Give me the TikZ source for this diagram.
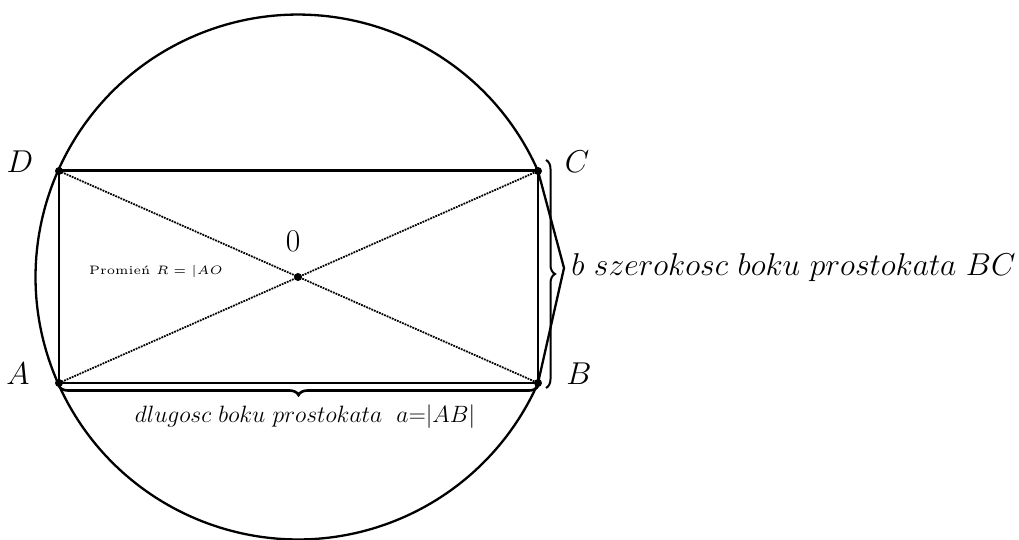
\documentclass[tikz,border=0pt]{standalone}
\usetikzlibrary{decorations.pathreplacing}
\begin{document}
\begin{tikzpicture}[x=1pt,y=1pt,
  lbl/.style={font=\fontsize{24.88}{30}\selectfont,scale=1.27,transform shape},
  dot/.style={circle,fill=black,inner sep=0pt,minimum size=8pt},
  diag/.style={densely dotted,line width=1.8pt},
  side/.style={line width=2pt},
  brc/.style={decorate,decoration={brace,amplitude=9pt},line width=2.6pt}]
\useasboundingbox (0,0) rectangle (1019,-540);
\coordinate (O) at (298,-277);
\coordinate (A) at (59,-383);
\coordinate (B) at (538,-383);
\coordinate (C) at (538,-171);
\coordinate (D) at (59,-171);
\coordinate (V) at (564,-268);
\coordinate (a1) at (59,-386);
\coordinate (b1) at (538,-386);
\coordinate (c1) at (546,-160);
\coordinate (b2) at (546,-388);
% circle (with its right side drawn as two straight strokes)
\draw[line width=2.3pt] (C) arc[start angle=23.83,end angle=336.17,radius=262.4] -- (V) -- (C);
% rectangle
\draw[line width=3pt] (D) -- (C);
\draw[side] (A) -- (D);
\draw[side] (B) -- (C);
\draw[side] (A) -- (B);
\draw[diag] (A) -- (C);
\draw[diag] (D) -- (B);
% braces
\draw[brc] (b1) -- (a1);
\draw[brc,line width=2pt] (c1) -- (b2);
% points
\node[dot] (pA) at (A) {};
\node[dot] (pB) at (B) {};
\node[dot] (pC) at (C) {};
\node[dot] (pD) at (D) {};
\node[dot] (pO) at (O) {};
% labels
\node[lbl] (lD) at (20,-162) {$D$};
\node[lbl] (lC) at (577,-162) {$C$};
\node[lbl] (lA) at (18,-374) {$A$};
\node[lbl] (lB) at (579,-374) {$B$};
\node[lbl] (lO) at (293,-241) {$0$};
\node[scale=2.45,transform shape] (rad) at (156,-271) {\fontsize{5}{6}\selectfont Promień $R = |AO$};
\node[lbl,anchor=west,inner sep=0pt] (lb) at (571,-268) {$b\ szerokosc\ boku\ prostokata\ BC$};
\node[font=\fontsize{20.74}{25}\selectfont,scale=1.14,transform shape] (la) at (305,-417) {$dlugosc\ boku\ prostokata\ \ a{=}|AB|$};
\end{tikzpicture}
\end{document}
